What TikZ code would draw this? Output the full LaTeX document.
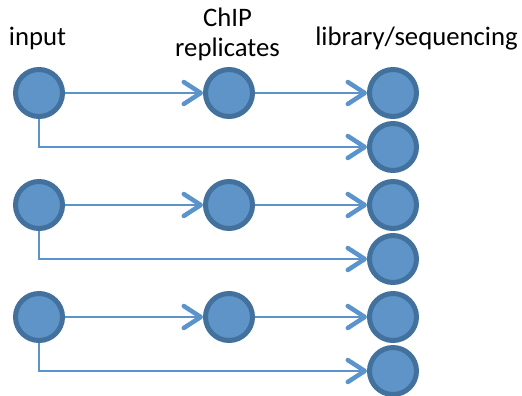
\documentclass[tikz,border=0pt]{standalone}
\usepackage{fontspec}
\setmainfont{Carlito}
\usetikzlibrary{arrows.meta}
\definecolor{cfill}{RGB}{94,148,199}
\definecolor{cborder}{RGB}{66,113,157}
\definecolor{cline}{RGB}{91,148,205}
\tikzset{
  sample/.style={circle, draw=cborder, fill=cfill, line width=5bp, minimum size=47bp, inner sep=0pt},
  flow/.style={draw=cline, line width=2bp, -{Straight Barb[length=17bp, width=22bp, line width=4.5bp, round]}},
  lbl/.style={font=\fontsize{26.7bp}{30bp}\selectfont, anchor=base, inner sep=0pt, align=center}
}
\begin{document}
\begin{tikzpicture}[x=1bp, y=-1bp]
\useasboundingbox (0,0) rectangle (522,395);
\node[lbl] (tin) at (37.5,45) {input};
\node[lbl] (tchip) at (227.5,56.7) {ChIP\\replicates};
\node[lbl] (tlib) at (416.5,45) {library/sequencing};
\foreach \i/\y in {1/93,2/205,3/317} {
  \node[sample] (in\i) at (39,\y) {};
  \node[sample] (chip\i) at (229,\y) {};
  \node[sample] (libA\i) at (393,\y) {};
  \node[sample] (libB\i) at (393,\y+54) {};
  \draw[flow] (in\i) -- (chip\i);
  \draw[flow] (chip\i) -- (libA\i);
  \draw[flow] (in\i.south) |- (libB\i.west);
}
\end{tikzpicture}
\end{document}
